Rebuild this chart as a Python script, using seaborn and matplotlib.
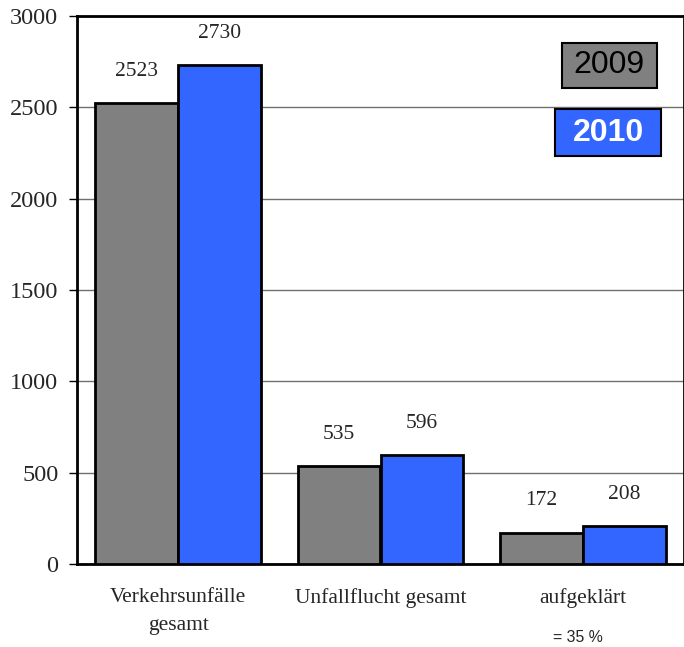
import matplotlib
matplotlib.use("Agg")
import matplotlib.pyplot as plt
import matplotlib.patches as mpatches
import seaborn as sns
import pandas as pd

categories = ["Verkehrsunfälle\ngesamt", "Unfallflucht gesamt", "aufgeklärt"]
years = ["2009", "2010"]
values_2009 = [2523, 535, 172]
values_2010 = [2730, 596, 208]
note_text = "= 35 %"
yticks = [0, 500, 1000, 1500, 2000, 2500, 3000]

colors = {"2009": "#808080", "2010": "#3366FF"}

df = pd.DataFrame({
    "cat": categories * 2,
    "year": ["2009"] * 3 + ["2010"] * 3,
    "val": values_2009 + values_2010,
})

sns.set_style("white")
plt.rcParams["font.family"] = ["Liberation Serif", "DejaVu Serif"]
sans = ["Liberation Sans", "DejaVu Sans"]

fig = plt.figure(figsize=(6.84, 6.47), dpi=100)
ax = fig.add_axes([77 / 684, 83 / 647, 607 / 684, 548 / 647])

sns.barplot(data=df, x="cat", y="val", hue="year", order=categories,
            hue_order=years, palette=colors, edgecolor="black", linewidth=2,
            width=0.82, ax=ax, legend=False, zorder=3, saturation=1)

ax.set_ylim(0, 3000)
ax.set_xlim(-0.5, 2.475)
ax.set_yticks(yticks)
ax.set_yticklabels([str(t) for t in yticks], fontsize=17.5)
ax.yaxis.grid(True, color="#707070", linewidth=1, zorder=0)
ax.set_axisbelow(True)
ax.set_xlabel("")
ax.set_ylabel("")

ax.set_xticks(range(len(categories)))
ax.set_xticklabels(categories, fontsize=15.5, linespacing=1.65)
ax.tick_params(axis="x", which="major", length=0, pad=17)
ax.set_xticks([-0.5, 0.5, 1.5, 2.5], minor=True)
ax.tick_params(axis="x", which="minor", length=6, width=1, direction="out", color="black")
ax.tick_params(axis="y", length=6, width=1, direction="out", color="black", left=True, pad=7.5)

for s in ["left", "bottom", "top", "right"]:
    ax.spines[s].set_color("black")
    ax.spines[s].set_linewidth(2)

for cont in ax.containers:
    ax.bar_label(cont, labels=[str(int(v)) for v in cont.datavalues],
                 padding=16, fontsize=15.5)

ax.annotate(note_text, xy=(2, 0), xycoords=("data", "axes fraction"),
            xytext=(-3.6, -53), textcoords="offset points", ha="center", va="center",
            fontsize=11.4, family=sans)

# legend boxes
ax.add_patch(mpatches.Rectangle((0.799, 0.8686), 0.1565, 0.0821, transform=ax.transAxes,
                                facecolor=colors["2009"], edgecolor="black", linewidth=1.5,
                                zorder=5))
ax.text(0.877, 0.9097, "2009", transform=ax.transAxes, ha="center", va="center",
        fontsize=23, family=sans, color="black", zorder=6)
ax.add_patch(mpatches.Rectangle((0.7875, 0.7445), 0.1746, 0.0858, transform=ax.transAxes,
                                facecolor=colors["2010"], edgecolor="black", linewidth=1.5,
                                zorder=5))
ax.text(0.875, 0.7874, "2010", transform=ax.transAxes, ha="center", va="center",
        fontsize=23, fontweight="bold", family=sans, color="white", zorder=6)

fig.savefig("out.png", dpi=100)
